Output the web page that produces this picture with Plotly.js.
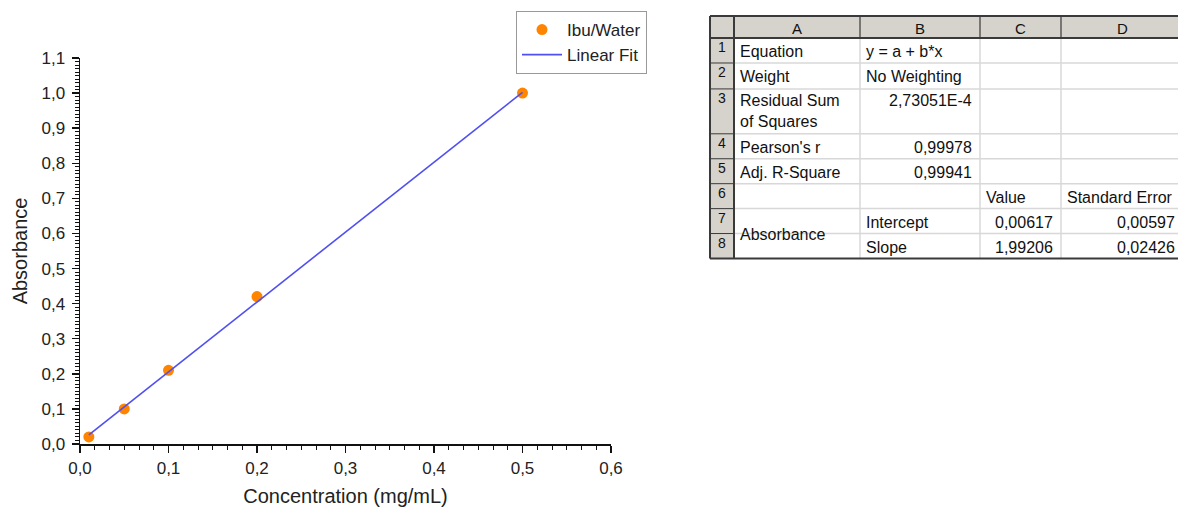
<!DOCTYPE html>
<html>
<head>
<meta charset="utf-8">
<script src="https://cdn.plot.ly/plotly-3.0.1.min.js"></script>
<style>html,body{margin:0;padding:0;background:#fff;}#chart{width:1178px;height:509px;}</style>
</head>
<body>
<div id="chart"></div>
<script>
// ---- data ----
const concentration = [0.01, 0.05, 0.10, 0.20, 0.50];
const absorbance    = [0.02, 0.10, 0.21, 0.42, 1.00];
const fitX = [0.01, 0.50];
const fitY = [0.0261, 1.0022];
const xTickVals = [0, 0.1, 0.2, 0.3, 0.4, 0.5, 0.6];
const yTickVals = [0, 0.1, 0.2, 0.3, 0.4, 0.5, 0.6, 0.7, 0.8, 0.9, 1.0, 1.1];

// ---- table contents ----
const colHeaders = ['A', 'B', 'C', 'D'];
const rowNumbers = ['1', '2', '3', '4', '5', '6', '7', '8'];
const colA = ['Equation', 'Weight', 'Residual Sum<br>of Squares', "Pearson's r", 'Adj. R-Square', '', 'Absorbance', ''];
const colB = ['y = a + b*x', 'No Weighting', '2,73051E-4', '0,99978', '0,99941', '', 'Intercept', 'Slope'];
const colC = ['', '', '', '', '', 'Value', '0,00617', '1,99206'];
const colD = ['', '', '', '', '', 'Standard Error', '0,00597', '0,02426'];

// ---- layout geometry (pixels) ----
const W = 1178, H = 509;
const PL = 80, PR = 611, PT = 57, PB = 444;
const px = x => (x - PL) / (PR - PL);
const py = y => (PB - y) / (PB - PT);
const rowEdges = [15, 37, 62, 88, 133, 158, 183, 208, 233, 258];
const colEdges = [710, 734, 860, 980, 1061, 1183];
const merges = [{col: 0, row: 6, span: 2}];
const FONT = 'Liberation Sans, Arial, sans-serif';
const GREY = '#d6d3cc', DARK = '#3a3a3a', LIGHT = '#d8d8d8';

const shapes = [];
const annotations = [];
function rect(x0, y0, x1, y1, fill) {
  shapes.push({type: 'rect', xref: 'paper', yref: 'paper', x0: px(x0), x1: px(x1), y0: py(y0), y1: py(y1),
    fillcolor: fill, line: {width: 0}, layer: 'above'});
}
function line(x0, y0, x1, y1, color, w) {
  shapes.push({type: 'line', xref: 'paper', yref: 'paper', x0: px(x0), x1: px(x1), y0: py(y0), y1: py(y1),
    line: {color: color, width: w}, layer: 'above'});
}
function text(t, x, y, xa, ya, size) {
  annotations.push({text: t, x: px(x), y: py(y), xref: 'paper', yref: 'paper', xanchor: xa, yanchor: ya,
    showarrow: false, font: {family: FONT, size: size, color: '#111'}, align: xa === 'right' ? 'right' : 'left'});
}

const nRows = rowNumbers.length;
const tTop = rowEdges[0], hBot = rowEdges[1], tBot = rowEdges[rowEdges.length - 1];
const tLeft = colEdges[0], tRight = colEdges[colEdges.length - 1] + 20;
// fills
rect(tLeft, tTop, tRight, hBot, GREY);
rect(tLeft, hBot, colEdges[1], tBot, GREY);
// light inner grid (data area)
for (let r = 1; r < nRows; r++) {
  const y = rowEdges[r + 1];
  let x0 = colEdges[1];
  merges.forEach(m => { if (r > m.row && r < m.row + m.span) x0 = colEdges[m.col + 1]; });
  line(x0, y, tRight, y, LIGHT, 1.5);
}
for (let c = 2; c < colEdges.length - 1; c++) line(colEdges[c], hBot, colEdges[c], tBot, LIGHT, 1.5);
// dark lines: header separators, row-number separators
for (let c = 2; c < colEdges.length - 1; c++) line(colEdges[c], tTop, colEdges[c], hBot, DARK, 1.2);
for (let r = 1; r < nRows; r++) line(tLeft, rowEdges[r + 1], colEdges[1], rowEdges[r + 1], DARK, 1);
line(colEdges[1], tTop, colEdges[1], tBot, DARK, 2);
line(tLeft, hBot, tRight, hBot, DARK, 2);
line(tLeft, tTop, tRight, tTop, DARK, 2);
line(tLeft, tBot, tRight, tBot, DARK, 2);
line(tLeft, tTop, tLeft, tBot, DARK, 2);

// header letters
colHeaders.forEach((h, i) => text(h, (colEdges[i + 1] + Math.min(colEdges[i + 2], 1190)) / 2, (tTop + hBot) / 2 + 1, 'center', 'middle', 15));
// row numbers
rowNumbers.forEach((n, r) => text(n, (colEdges[0] + colEdges[1]) / 2, rowEdges[r + 1] - 1, 'center', 'top', 14));
// cells
const cols = [colA, colB, colC, colD];
cols.forEach((col, c) => {
  col.forEach((v, r) => {
    if (!v) return;
    let yTop = rowEdges[r + 1], yBot = rowEdges[r + 2];
    merges.forEach(m => { if (m.col === c && m.row === r) yBot = rowEdges[r + 1 + m.span]; });
    const numeric = /^[0-9]/.test(v);
    const xa = numeric ? 'right' : 'left';
    const x = numeric ? colEdges[c + 2] - 6 : colEdges[c + 1] + 4;
    if (yBot - yTop > 30 && !merges.some(m => m.col === c && m.row === r)) {
      text(v, x, yTop + 1, xa, 'top', 16);
    } else {
      text(v, x, (yTop + yBot) / 2 + 1, xa, 'middle', 16);
    }
  });
});

const traces = [
  {x: concentration, y: absorbance, type: 'scatter', mode: 'markers', name: 'Ibu/Water',
   marker: {color: '#ff8400', size: 11}},
  {x: fitX, y: fitY, type: 'scatter', mode: 'lines', name: 'Linear Fit',
   line: {color: '#4f4ff2', width: 1.6}}
];

const axisCommon = {
  showgrid: false, zeroline: false, showline: true, linecolor: '#111', linewidth: 1.5,
  ticks: 'outside', ticklen: 7, tickwidth: 1.5, tickcolor: '#111', tickformat: '.1f',
  tickfont: {family: FONT, size: 17, color: '#222'}, automargin: false, fixedrange: true
};

const layout = {
  width: W, height: H,
  margin: {l: PL, r: W - PR, t: PT, b: H - PB, pad: 0},
  paper_bgcolor: '#fff', plot_bgcolor: '#fff',
  separators: ', ',
  font: {family: FONT, color: '#222'},
  showlegend: true,
  legend: {x: px(647), xanchor: 'right', y: py(11), yanchor: 'top', bgcolor: '#fff',
    bordercolor: '#999', borderwidth: 1, font: {family: FONT, size: 17, color: '#222'},
    itemwidth: 40, tracegroupgap: 0},
  xaxis: Object.assign({}, axisCommon, {
    range: [0, 0.6], tickvals: xTickVals, ticklabelstandoff: 1,
    minor: {dtick: 0.1 / 6, tick0: 0, ticks: 'outside', ticklen: 4, tickwidth: 1, tickcolor: '#111'},
    title: {text: 'Concentration (mg/mL)', font: {family: FONT, size: 20, color: '#222'}, standoff: 12}
  }),
  yaxis: Object.assign({}, axisCommon, {
    range: [0, 1.1], tickvals: yTickVals, ticklabelstandoff: 3,
    minor: {dtick: 0.01, tick0: 0, ticks: 'outside', ticklen: 4, tickwidth: 1, tickcolor: '#111'},
    title: {text: 'Absorbance', font: {family: FONT, size: 20, color: '#222'}, standoff: 8}
  }),
  shapes: shapes,
  annotations: annotations
};

Plotly.newPlot('chart', traces, layout, {displayModeBar: false, staticPlot: true});
</script>
</body>
</html>
